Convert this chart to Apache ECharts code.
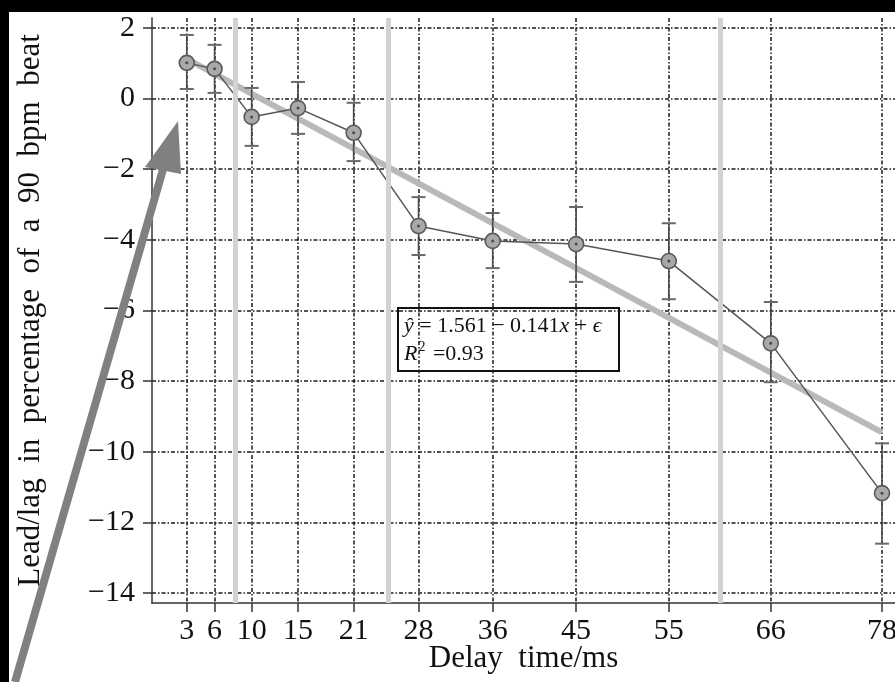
<!DOCTYPE html>
<html>
<head>
<meta charset="utf-8">
<script src="https://cdn.jsdelivr.net/npm/echarts@6/dist/echarts.min.js"></script>
<style>
  html, body { margin: 0; padding: 0; background: #fff; }
  #chart { width: 895px; height: 682px; }
</style>
</head>
<body>
<div id="chart"></div>
<script>
// delay times (ms) used in the experiment
const delays = [3, 6, 10, 15, 21, 28, 36, 45, 55, 66, 78]
// mean lead/lag and error bar ends
const meanLag = [1.01, 0.84, -0.52, -0.27, -0.97, -3.61, -4.03, -4.12, -4.60, -6.93, -11.17]
const errLow = [0.27, 0.16, -1.34, -1.00, -1.77, -4.43, -4.80, -5.19, -5.68, -8.03, -12.60]
const errHigh = [1.80, 1.52, 0.30, 0.47, -0.12, -2.79, -3.24, -3.07, -3.53, -5.76, -9.76]
// fitted regression line end points
const fitLine = [[3, 1.12], [78, -9.45]]
// light vertical separators
const dividers = [8.2, 24.7, 60.5]
const yTicks = [-14, -12, -10, -8, -6, -4, -2, 0, 2]

const serif = 'Liberation Serif'
const gridDash = [4, 2, 1.5, 2]

const chart = echarts.init(document.getElementById('chart'))

const option = {
  backgroundColor: '#fff',
  animation: false,
  grid: { left: 152, right: 0, top: 18, bottom: 79, outerBoundsMode: 'none' },
  xAxis: {
    type: 'value',
    min: -0.75,
    max: 79.4,
    name: 'Delay  time/ms',
    nameLocation: 'middle',
    nameGap: 40,
    nameMoveOverlap: false,
    nameTextStyle: { fontFamily: serif, fontSize: 31, color: '#111' },
    axisLine: { onZero: false, lineStyle: { color: '#333', width: 1.5 } },
    axisTick: { customValues: delays, length: 9, lineStyle: { color: '#333', width: 1.5 } },
    axisLabel: { customValues: delays, margin: 13, fontFamily: serif, fontSize: 30, color: '#111' },
    splitLine: { show: true, lineStyle: { color: '#1a1a1a', width: 1.5, type: gridDash } }
  },
  yAxis: {
    type: 'value',
    min: -14.28,
    max: 2.28,
    name: 'Lead/lag  in  percentage  of  a  90  bpm  beat',
    nameLocation: 'middle',
    nameRotate: 90,
    nameGap: 106,
    nameTextStyle: { fontFamily: serif, fontSize: 31, color: '#111' },
    axisLine: { show: true, onZero: false, lineStyle: { color: '#333', width: 1.5 } },
    axisTick: { show: true, customValues: yTicks, length: 9, lineStyle: { color: '#333', width: 1.5 } },
    axisLabel: {
      customValues: yTicks,
      margin: 17,
      fontFamily: serif,
      fontSize: 30,
      color: '#111',
      formatter: v => (v < 0 ? '\u2212' + Math.abs(v) : String(v))
    },
    splitLine: { show: true, lineStyle: { color: '#1a1a1a', width: 1.5, type: gridDash } }
  },
  series: [
    {
      // grey separators
      type: 'line',
      data: [],
      silent: true,
      z: 1,
      markLine: {
        symbol: 'none',
        silent: true,
        label: { show: false },
        lineStyle: { color: '#d2d2d2', width: 5, type: 'solid' },
        data: dividers.map(d => ({ xAxis: d }))
      }
    },
    {
      name: 'fit',
      type: 'line',
      data: fitLine,
      symbol: 'none',
      z: 2,
      lineStyle: { color: '#b9b9b9', width: 6 }
    },
    {
      name: 'error',
      type: 'custom',
      z: 3,
      data: delays.map((d, i) => [d, errLow[i], errHigh[i]]),
      renderItem: (params, api) => {
        const x = api.value(0)
        const lo = api.coord([x, api.value(1)])
        const hi = api.coord([x, api.value(2)])
        const half = 7
        const st = { stroke: '#4a4a4a', lineWidth: 1.6 }
        const cap = { stroke: '#6a6a6a', lineWidth: 2 }
        return {
          type: 'group',
          children: [
            { type: 'line', shape: { x1: lo[0], y1: lo[1], x2: hi[0], y2: hi[1] }, style: st },
            { type: 'line', shape: { x1: lo[0] - half, y1: lo[1], x2: lo[0] + half, y2: lo[1] }, style: cap },
            { type: 'line', shape: { x1: hi[0] - half, y1: hi[1], x2: hi[0] + half, y2: hi[1] }, style: cap }
          ]
        }
      }
    },
    {
      name: 'mean',
      type: 'line',
      z: 4,
      data: delays.map((d, i) => [d, meanLag[i]]),
      symbol: 'circle',
      symbolSize: 15,
      lineStyle: { color: '#555', width: 1.5 },
      itemStyle: { color: '#a9a9a9', borderColor: '#5a5a5a', borderWidth: 1.6 }
    },
    {
      name: 'centre',
      type: 'scatter',
      z: 5,
      data: delays.map((d, i) => [d, meanLag[i]]),
      symbolSize: 3,
      itemStyle: { color: '#333' }
    }
  ],
  graphic: [
    {
      type: 'group',
      left: 397,
      top: 307,
      z: 50,
      children: [
        {
          type: 'rect',
          shape: { x: 0, y: 0, width: 221, height: 63 },
          style: { fill: '#fff', stroke: '#111', lineWidth: 2 }
        },
        {
          type: 'text',
          x: 6,
          y: 4,
          style: {
            text: '{i|ŷ} = 1.561 \u2212 0.141{i|x} + {i|ϵ}\n{i|R}{sup|2} =0.93',
            fontFamily: serif,
            fontSize: 22,
            lineHeight: 28,
            fill: '#111',
            rich: {
              i: { fontFamily: serif, fontSize: 22, lineHeight: 28, fontStyle: 'italic', fill: '#111' },
              sup: { fontFamily: serif, fontSize: 14, lineHeight: 28, verticalAlign: 'top', padding: [0, 2, 10, 1], fill: '#111' }
            }
          }
        }
      ]
    },
    // big grey arrow
    {
      type: 'line',
      z: 60,
      shape: { x1: 15, y1: 682, x2: 164, y2: 166 },
      style: { stroke: '#808080', lineWidth: 8 }
    },
    {
      type: 'polygon',
      z: 60,
      shape: { points: [[178, 121], [145, 167], [181, 174]] },
      style: { fill: '#808080' }
    },
    // black scan border
    { type: 'rect', z: 70, shape: { x: 0, y: 0, width: 895, height: 12 }, style: { fill: '#000' } },
    { type: 'rect', z: 70, shape: { x: 0, y: 0, width: 9, height: 682 }, style: { fill: '#000' } }
  ]
}

chart.setOption(option)
</script>
</body>
</html>
